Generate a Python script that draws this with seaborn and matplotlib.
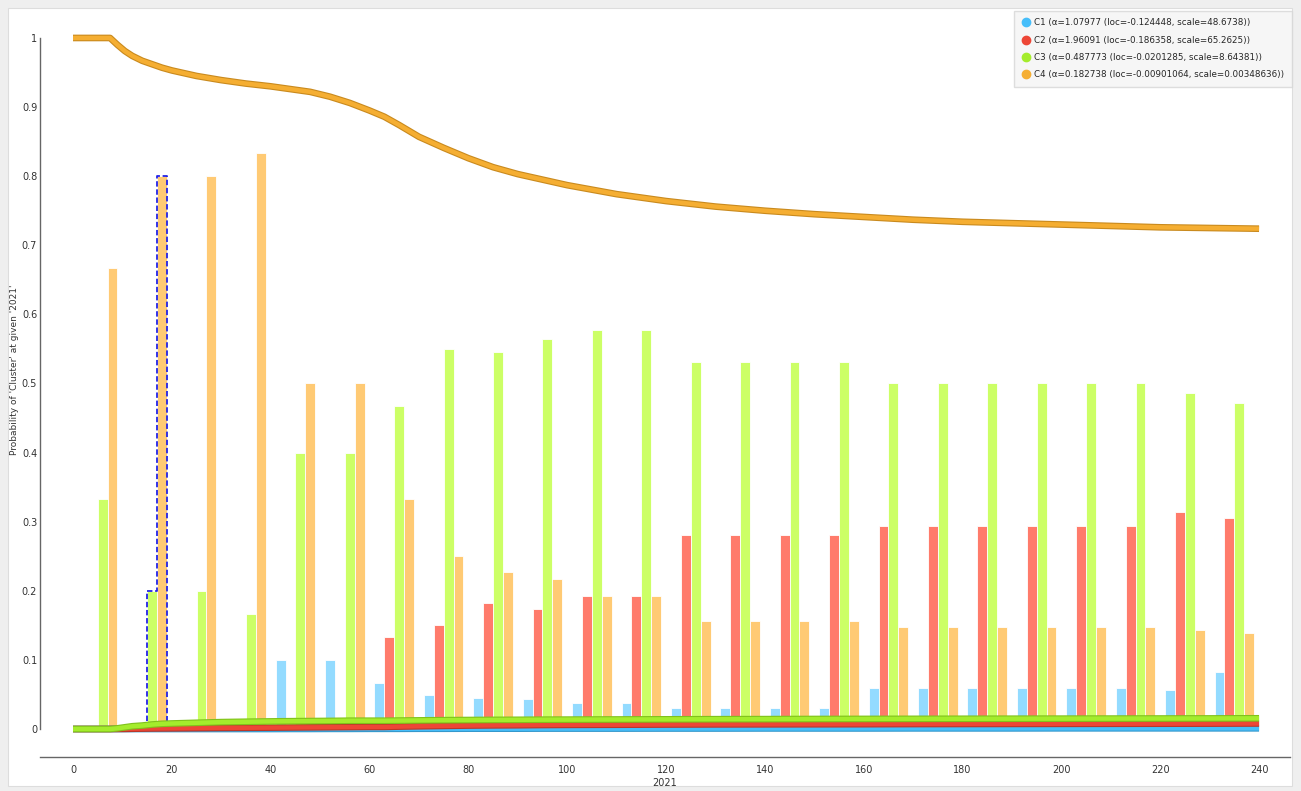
import matplotlib
matplotlib.use("Agg")
import matplotlib.pyplot as plt
import matplotlib.patheffects as pe
from matplotlib.patches import Rectangle
from matplotlib.lines import Line2D
import seaborn as sns
import pandas as pd
import numpy as np

sns.set_style("white")
plt.rcParams['font.family'] = ['DejaVu Sans']

# Datos
clusters = ["C1", "C2", "C3", "C4"]
legend_labels = [
    "C1 (α=1.07977 (loc=-0.124448, scale=48.6738))",
    "C2 (α=1.96091 (loc=-0.186358, scale=65.2625))",
    "C3 (α=0.487773 (loc=-0.0201285, scale=8.64381))",
    "C4 (α=0.182738 (loc=-0.00901064, scale=0.00348636))",
]
bin_starts = list(range(0, 240, 10))
c1_bars = [0, 0, 0, 0, 0.1, 0.1, 0.067, 0.049, 0.045, 0.043, 0.038, 0.038,
           0.031, 0.031, 0.031, 0.031, 0.059, 0.059, 0.059, 0.059, 0.059, 0.059, 0.057, 0.083]
c2_bars = [0, 0, 0, 0, 0, 0, 0.133, 0.15, 0.182, 0.174, 0.192, 0.192,
           0.281, 0.281, 0.281, 0.281, 0.294, 0.294, 0.294, 0.294, 0.294, 0.294, 0.314, 0.306]
c3_bars = [0.333, 0.2, 0.2, 0.167, 0.4, 0.4, 0.467, 0.55, 0.545, 0.565, 0.577, 0.577,
           0.531, 0.531, 0.531, 0.531, 0.5, 0.5, 0.5, 0.5, 0.5, 0.5, 0.486, 0.472]
c4_bars = [0.667, 0.8, 0.8, 0.833, 0.5, 0.5, 0.333, 0.25, 0.227, 0.217, 0.192, 0.192,
           0.156, 0.156, 0.156, 0.156, 0.147, 0.147, 0.147, 0.147, 0.147, 0.147, 0.143, 0.139]
bars = [c1_bars, c2_bars, c3_bars, c4_bars]

curve_x = [0, 7.5, 9, 10.5, 12, 14, 16, 18, 20, 25, 30, 35, 40, 44, 48, 52, 56, 60, 63, 66,
           70, 75, 80, 85, 90, 95, 100, 110, 120, 130, 140, 150, 160, 170, 180, 190, 200,
           210, 220, 230, 240]
c1_curve = [0, 0, 0, 0, 0, 0, 0, 0, 0, 0, 0, 0, 0, 0.0001, 0.0001, 0.0002, 0.0002, 0.0003,
            0.0003, 0.0003, 0.0004, 0.0004, 0.0005, 0.0005, 0.0005, 0.0006, 0.0006, 0.0006,
            0.0007, 0.0007, 0.0008, 0.0008, 0.0008, 0.0009, 0.0009, 0.0009, 0.001, 0.001,
            0.001, 0.001, 0.001]
c2_curve = [0, 0, 0.0001, 0.0002, 0.0004, 0.0006, 0.0008, 0.0009, 0.001, 0.0013, 0.0016,
            0.0018, 0.002, 0.0022, 0.0024, 0.0026, 0.0028, 0.003, 0.003, 0.0035, 0.004,
            0.0045, 0.005, 0.0053, 0.0055, 0.0058, 0.006, 0.0062, 0.0065, 0.0067, 0.0068,
            0.0069, 0.007, 0.0072, 0.0073, 0.0074, 0.0075, 0.0076, 0.0077, 0.0078, 0.008]
c3_curve = [0, 0, 0.001, 0.0025, 0.004, 0.005, 0.0065, 0.0075, 0.008, 0.009, 0.010, 0.0105,
            0.011, 0.0113, 0.0115, 0.0117, 0.012, 0.012, 0.012, 0.0122, 0.0125, 0.0128, 0.013,
            0.0132, 0.0133, 0.0135, 0.0136, 0.0138, 0.014, 0.0142, 0.0143, 0.0145, 0.0146,
            0.0147, 0.0148, 0.0149, 0.015, 0.0151, 0.0152, 0.0153, 0.0155]
c4_curve = [1.0, 1.0, 0.99, 0.981, 0.974, 0.967, 0.962, 0.957, 0.953, 0.945, 0.939, 0.934,
            0.930, 0.926, 0.922, 0.915, 0.906, 0.895, 0.886, 0.874, 0.857, 0.841, 0.826,
            0.813, 0.803, 0.795, 0.787, 0.774, 0.764, 0.756, 0.750, 0.745, 0.741, 0.737,
            0.734, 0.732, 0.730, 0.728, 0.726, 0.725, 0.724]
curves = [c1_curve, c2_curve, c3_curve, c4_curve]

x_ticks = list(range(0, 241, 20))
y_ticks = [0, 0.1, 0.2, 0.3, 0.4, 0.5, 0.6, 0.7, 0.8, 0.9, 1]
y_tick_labels = ["0", "0.1", "0.2", "0.3", "0.4", "0.5", "0.6", "0.7", "0.8", "0.9", "1"]
selected_bin = 10

# Colores
line_colors = ["#46befa", "#ed4636", "#a4ec2c", "#f5ae32"]
edge_colors = ["#3598cc", "#bb3628", "#80c11c", "#c98a1e"]
bar_colors = ["#93dbff", "#ff7b6b", "#ccff66", "#ffca74"]

fig = plt.figure(figsize=(13.01, 7.91), dpi=100)
fig.patch.set_facecolor("#efefef")
fig.add_artist(Rectangle((8 / 1301, 5 / 791), 1284 / 1301, 778 / 791,
                         transform=fig.transFigure, facecolor="white",
                         edgecolor="#dddddd", linewidth=0.8, zorder=0))

ax = fig.add_axes([40 / 1301, 34 / 791, 1250 / 1301, 737 / 791])
ax.set_facecolor("none")

# Barras
for k, vals in enumerate(bars):
    ax.bar(np.array(bin_starts) + 1 + 2 * k, vals, width=2, align="edge",
           color=bar_colors[k], edgecolor="white", linewidth=0.6, zorder=1)

# Selección
i = bin_starts.index(selected_bin)
l3 = selected_bin + 1 + 2 * 2
l4 = selected_bin + 1 + 2 * 3
ax.plot([l3, l3, l4, l4, l4 + 2, l4 + 2],
        [0.012, c3_bars[i], c3_bars[i], c4_bars[i], c4_bars[i], 0.012],
        color="#2323e6", linewidth=1.3, linestyle=(0, (3, 1.5)), zorder=1.5)

# Curvas
df_curves = pd.concat([
    pd.DataFrame({"x": curve_x, "p": c, "cluster": name})
    for name, c in zip(clusters, curves)
])
sns.lineplot(data=df_curves, x="x", y="p", hue="cluster", hue_order=clusters,
             palette=line_colors, linewidth=3.2, estimator=None, legend=False,
             ax=ax, zorder=3)
for line, dark in zip(ax.lines[1:], edge_colors):
    line.set_solid_capstyle("butt")
    line.set_solid_joinstyle("round")
    line.set_path_effects([pe.Stroke(linewidth=4.8, foreground=dark), pe.Normal()])

ax.set_xlim(-6.68, 246.26)
ax.set_ylim(-0.0405, 1.026)
ax.set_xticks(x_ticks)
ax.set_yticks(y_ticks)
ax.set_yticklabels(y_tick_labels)
ax.tick_params(axis="both", direction="in", length=4, width=0.8, color="#555555",
               labelsize=7, labelcolor="#333333")
ax.tick_params(axis="x", pad=6)
ax.tick_params(axis="y", pad=2)
for side in ["top", "right"]:
    ax.spines[side].set_visible(False)
ax.spines["left"].set_bounds(0, 1)
for side in ["left", "bottom"]:
    ax.spines[side].set_color("#666666")
    ax.spines[side].set_linewidth(1.0)

ax.set_xlabel("2021", fontsize=7, color="#333333", labelpad=2)
ax.set_ylabel("Probability of 'Cluster' at given '2021'", fontsize=6.5, color="#333333")
ax.yaxis.set_label_coords(-0.0165, 0.525)

handles = [Line2D([], [], marker="o", linestyle="", markersize=6,
                  markerfacecolor=c, markeredgecolor=c) for c in line_colors]
fig.legend(handles, legend_labels, loc="upper right",
           bbox_to_anchor=(1292 / 1301, 1 - 11 / 791), fontsize=6.3, frameon=True,
           fancybox=False, facecolor="#f4f4f4", edgecolor="#d6d6d6",
           handletextpad=0.5, handlelength=1.0, labelspacing=0.95, borderpad=0.85,
           borderaxespad=0)

plt.savefig("out.png", dpi=100, facecolor=fig.get_facecolor())
